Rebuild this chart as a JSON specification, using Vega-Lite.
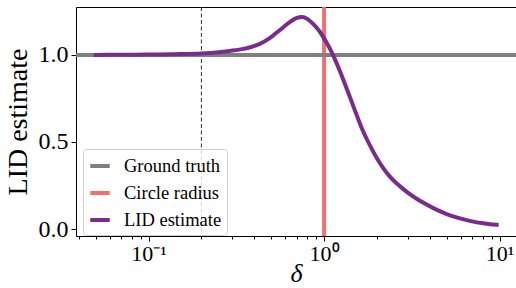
{
  "$schema": "https://vega.github.io/schema/vega-lite/v6.json",
  "width": 440,
  "height": 229,
  "autosize": {"type": "none"},
  "padding": {"left": 76, "top": 7, "right": 0, "bottom": 52},
  "config": {
    "font": "Liberation Serif",
    "view": {"stroke": "black", "strokeWidth": 1},
    "style": {"guide-label": {"font": "Liberation Serif"}, "guide-title": {"font": "Liberation Serif"}},
    "axis": {
      "domain": false,
      "grid": false,
      "tickColor": "black",
      "tickWidth": 1,
      "labelColor": "black",
      "labelFont": "Liberation Serif",
      "titleFont": "Liberation Serif",
      "titleColor": "black",
      "titleFontWeight": "normal"
    },
    "legend": {
      "orient": "none", "legendX": 7, "legendY": 142,
      "symbolType": "stroke", "symbolStrokeWidth": 4, "symbolSize": 380,
      "labelFont": "Liberation Serif", "labelFontSize": 18.5, "labelColor": "black",
      "labelOffset": 12, "rowPadding": 5, "padding": 5,
      "strokeColor": "#d0d0d0", "fillColor": "rgba(255,255,255,0.8)", "cornerRadius": 3
    }
  },
  "datasets": {
    "curve": [
      {"delta": 0.05, "lid": 1.0},
      {"delta": 0.07, "lid": 1.001},
      {"delta": 0.1, "lid": 1.002},
      {"delta": 0.14, "lid": 1.004},
      {"delta": 0.2, "lid": 1.008},
      {"delta": 0.25, "lid": 1.015},
      {"delta": 0.29, "lid": 1.023},
      {"delta": 0.34, "lid": 1.033},
      {"delta": 0.38, "lid": 1.044},
      {"delta": 0.43, "lid": 1.063},
      {"delta": 0.49, "lid": 1.096},
      {"delta": 0.56, "lid": 1.143},
      {"delta": 0.64, "lid": 1.19},
      {"delta": 0.7, "lid": 1.212},
      {"delta": 0.745, "lid": 1.217},
      {"delta": 0.79, "lid": 1.21},
      {"delta": 0.84, "lid": 1.19},
      {"delta": 0.9, "lid": 1.16},
      {"delta": 0.95, "lid": 1.13},
      {"delta": 1.0, "lid": 1.095},
      {"delta": 1.05, "lid": 1.058},
      {"delta": 1.106, "lid": 1.014},
      {"delta": 1.17, "lid": 0.96},
      {"delta": 1.233, "lid": 0.905},
      {"delta": 1.3, "lid": 0.846},
      {"delta": 1.358, "lid": 0.796},
      {"delta": 1.43, "lid": 0.736},
      {"delta": 1.5, "lid": 0.68},
      {"delta": 1.575, "lid": 0.624},
      {"delta": 1.652, "lid": 0.572},
      {"delta": 1.75, "lid": 0.517},
      {"delta": 1.869, "lid": 0.46},
      {"delta": 2.0, "lid": 0.406},
      {"delta": 2.178, "lid": 0.348},
      {"delta": 2.35, "lid": 0.305},
      {"delta": 2.54, "lid": 0.27},
      {"delta": 2.71, "lid": 0.245},
      {"delta": 3.01, "lid": 0.208},
      {"delta": 3.37, "lid": 0.174},
      {"delta": 3.75, "lid": 0.146},
      {"delta": 4.19, "lid": 0.12},
      {"delta": 4.7, "lid": 0.097},
      {"delta": 5.22, "lid": 0.079},
      {"delta": 5.8, "lid": 0.064},
      {"delta": 6.49, "lid": 0.051},
      {"delta": 7.2, "lid": 0.041},
      {"delta": 8.07, "lid": 0.033},
      {"delta": 8.8, "lid": 0.028},
      {"delta": 9.62, "lid": 0.024}
    ],
    "truth": [{"series": "Ground truth", "value": 1.0}],
    "radius": [{"series": "Circle radius", "delta": 1.0}],
    "marker": [{"delta": 0.2}]
  },
  "resolve": {"axis": {"x": "independent"}},
  "layer": [
    {
      "data": {"name": "marker"},
      "mark": {"type": "rule", "color": "#333333", "strokeWidth": 1, "strokeDash": [4, 2.5]},
      "encoding": {
        "x": {"field": "delta", "type": "quantitative", "scale": {"type": "log", "domain": [0.0386, 12.4], "nice": false}, "axis": null}
      }
    },
    {
      "data": {"name": "radius"},
      "mark": {"type": "rule", "strokeWidth": 4},
      "encoding": {
        "x": {
          "field": "delta", "type": "quantitative",
          "scale": {"type": "log", "domain": [0.0386, 12.4], "nice": false},
          "axis": {
            "orient": "bottom",
            "values": [0.04, 0.05, 0.06, 0.07, 0.08, 0.09, 0.2, 0.3, 0.4, 0.5, 0.6, 0.7, 0.8, 0.9, 2, 3, 4, 5, 6, 7, 8, 9],
            "labels": false, "tickSize": 3, "title": null
          }
        },
        "color": {"field": "series", "type": "nominal",
          "scale": {"domain": ["Ground truth", "Circle radius", "LID estimate"], "range": ["#808080", "#f07070", "#7a2c8c"]},
          "legend": {"title": null}
        }
      }
    },
    {
      "data": {"name": "truth"},
      "mark": {"type": "rule", "strokeWidth": 4},
      "encoding": {
        "y": {"field": "value", "type": "quantitative", "scale": {"domain": [-0.04, 1.275], "nice": false, "zero": false}},
        "color": {"field": "series", "type": "nominal", "legend": {"title": null}}
      }
    },
    {
      "data": {"name": "curve"},
      "mark": {"type": "line", "strokeWidth": 4, "strokeCap": "square", "interpolate": "monotone"},
      "encoding": {
        "x": {
          "field": "delta", "type": "quantitative",
          "scale": {"type": "log", "domain": [0.0386, 12.4], "nice": false},
          "axis": {
            "orient": "bottom", "values": [0.1, 1, 10],
            "labelExpr": "datum.value < 0.5 ? '10⁻¹' : (datum.value < 5 ? '10⁰' : '10¹')",
            "labelFontSize": 22, "labelPadding": 2, "tickSize": 5,
            "title": "δ", "titleFontSize": 26, "titleFontStyle": "italic", "titlePadding": -4
          }
        },
        "y": {
          "field": "lid", "type": "quantitative",
          "scale": {"domain": [-0.04, 1.275], "nice": false, "zero": false},
          "axis": {
            "values": [0, 0.5, 1.0], "format": ".1f", "labelFontSize": 24, "tickSize": 5, "labelPadding": 3,
            "title": "LID estimate", "titleFontSize": 28, "titlePadding": 6
          }
        },
        "color": {"datum": "LID estimate", "type": "nominal", "legend": {"title": null}}
      }
    }
  ]
}
